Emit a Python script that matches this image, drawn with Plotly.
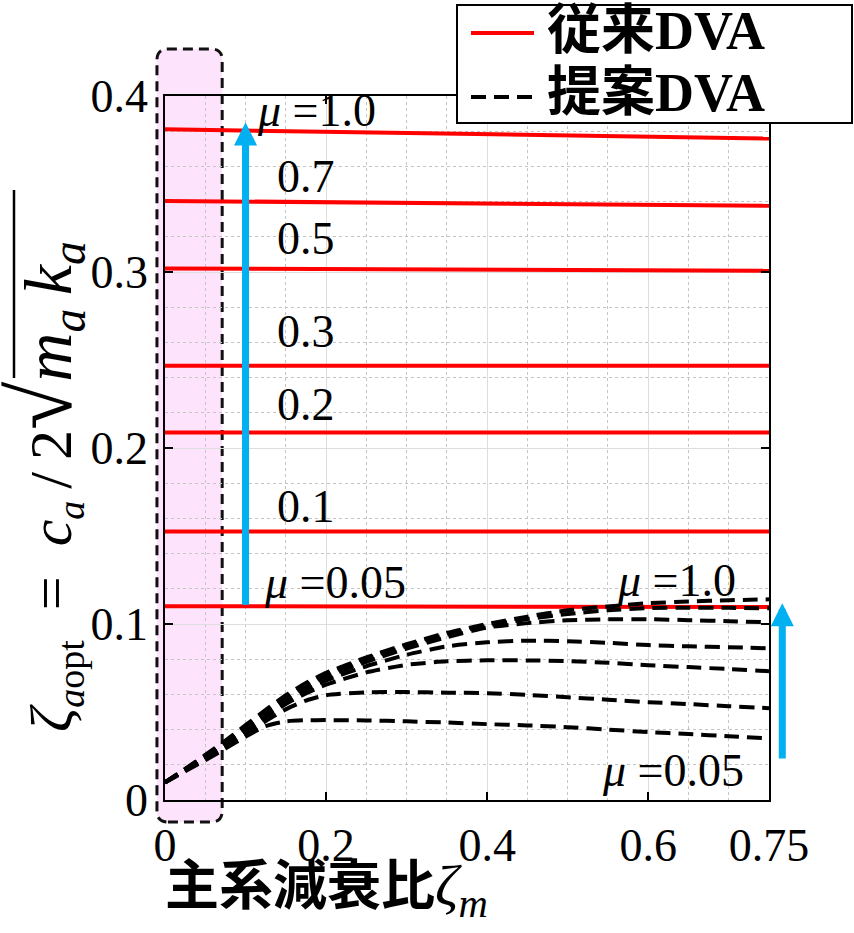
import plotly.graph_objects as go

# ---------------- data ----------------
mu_labels = ["1.0", "0.7", "0.5", "0.3", "0.2", "0.1", "0.05"]

# conventional DVA (red): value at zeta_m = 0 and at zeta_m = 0.75
conv_x = [0.0, 0.75]
conv_y = {
    "1.0": [0.3811, 0.3758],
    "0.7": [0.3404, 0.3376],
    "0.5": [0.3020, 0.3007],
    "0.3": [0.2468, 0.2468],
    "0.2": [0.2088, 0.2088],
    "0.1": [0.1526, 0.1526],
    "0.05": [0.1101, 0.1096],
}

# proposed DVA (black dashed)
prop_x = [0, 0.025, 0.05, 0.075, 0.1, 0.125, 0.15, 0.175, 0.2, 0.25, 0.3,
          0.35, 0.4, 0.45, 0.5, 0.55, 0.6, 0.65, 0.7, 0.75]
prop_y = {
    "0.05": [0.010, 0.0163, 0.0226, 0.0292, 0.0360, 0.0420, 0.0447, 0.0453, 0.0454, 0.0452,
             0.0447, 0.0440, 0.0431, 0.0424, 0.0414, 0.0400, 0.0386, 0.0375, 0.0362, 0.0350],
    "0.1": [0.010, 0.0166, 0.0232, 0.0302, 0.0375, 0.0448, 0.0515, 0.0565, 0.0595, 0.0612,
            0.0613, 0.0610, 0.0607, 0.0597, 0.0584, 0.0570, 0.0556, 0.0545, 0.0533, 0.0522],
    "0.2": [0.010, 0.0169, 0.0238, 0.0312, 0.0390, 0.0470, 0.0545, 0.0605, 0.0655, 0.0725,
            0.0768, 0.0788, 0.0794, 0.0793, 0.0789, 0.0780, 0.0766, 0.0755, 0.0744, 0.0732],
    "0.3": [0.010, 0.0171, 0.0243, 0.0320, 0.0400, 0.0482, 0.0560, 0.0625, 0.0680, 0.0760,
            0.0825, 0.0873, 0.0896, 0.0905, 0.0902, 0.0893, 0.0880, 0.0873, 0.0868, 0.0862],
    "0.5": [0.010, 0.0173, 0.0248, 0.0327, 0.0410, 0.0494, 0.0575, 0.0645, 0.0700, 0.0785,
            0.0860, 0.0925, 0.0980, 0.1005, 0.1021, 0.1027, 0.1027, 0.1022, 0.1016, 0.1010],
    "0.7": [0.010, 0.0175, 0.0252, 0.0333, 0.0418, 0.0503, 0.0585, 0.0655, 0.0712, 0.0800,
            0.0875, 0.0940, 0.0990, 0.1028, 0.1057, 0.1078, 0.1090, 0.1093, 0.1092, 0.1089],
    "1.0": [0.010, 0.0177, 0.0256, 0.0338, 0.0425, 0.0512, 0.0595, 0.0665, 0.0722, 0.0810,
            0.0885, 0.0950, 0.1000, 0.1042, 0.1078, 0.1100, 0.1118, 0.1128, 0.1135, 0.1140],
}

x_tickvals = [0, 0.2, 0.4, 0.6, 0.75]
x_ticktext = ["0", "0.2", "0.4", "0.6", "0.75"]
y_tickvals = [0, 0.1, 0.2, 0.3, 0.4]
y_ticktext = ["0", "0.1", "0.2", "0.3", "0.4"]

legend_names = ["従来DVA", "提案DVA"]

# in-plot labels: (text, x, y)
label_items = [
    ("<i>μ</i> =1.0", 0.112, 0.3915),
    ("0.7", 0.137, 0.354),
    ("0.5", 0.137, 0.319),
    ("0.3", 0.137, 0.266),
    ("0.2", 0.137, 0.225),
    ("0.1", 0.137, 0.1665),
    ("<i>μ</i> =0.05", 0.121, 0.1237),
    ("<i>μ</i> =1.0", 0.559, 0.1248),
    ("<i>μ</i> =0.05", 0.540, 0.017),
]

# blue arrows (data): tip / tail
arrow_left = dict(x=0.1, tip=0.385, tail=0.1101)
arrow_right = dict(x=0.7665, tip=0.1118, tail=0.0227)

# highlighted region (data units)
region_x = [-0.01, 0.071]
region_y = [-0.0125, 0.4267]

X_RANGE = [0, 0.75]
Y_RANGE = [0, 0.4]

SERIF = "Liberation Serif, Times New Roman, serif"
CJK = "Noto Sans CJK JP, sans-serif"

RED = "#ff0000"
DASH = "15px,8px"

W, H = 854, 933
ML, MR, MT, MB = 165, 85, 96, 133
PW, PH = W - ML - MR, H - MT - MB


def xp(x):
    return (x - X_RANGE[0]) / (X_RANGE[1] - X_RANGE[0])


def yp(y):
    return (y - Y_RANGE[0]) / (Y_RANGE[1] - Y_RANGE[0])


def px_x(px):
    return (px - ML) / PW


def px_y(py):
    return (H - MB - py) / PH


fig = go.Figure()

for m in mu_labels:
    fig.add_trace(go.Scatter(
        x=conv_x, y=conv_y[m], mode="lines",
        line=dict(color=RED, width=4),
        name=f"{legend_names[0]} μ={m}", showlegend=False, hoverinfo="skip"))

for m in mu_labels:
    fig.add_trace(go.Scatter(
        x=prop_x, y=prop_y[m], mode="lines",
        line=dict(color="black", width=4, dash=DASH, shape="spline", smoothing=0.6),
        name=f"{legend_names[1]} μ={m}", showlegend=False, hoverinfo="skip"))

shapes = []
# pink rounded region
x0, x1 = xp(region_x[0]), xp(region_x[1])
y0, y1 = yp(region_y[0]), yp(region_y[1])
rx, ry = 11 / PW, 11 / PH
path = (f"M{x0+rx},{y0} L{x1-rx},{y0} Q{x1},{y0} {x1},{y0+ry} "
        f"L{x1},{y1-ry} Q{x1},{y1} {x1-rx},{y1} L{x0+rx},{y1} "
        f"Q{x0},{y1} {x0},{y1-ry} L{x0},{y0+ry} Q{x0},{y0} {x0+rx},{y0} Z")
shapes.append(dict(type="path", xref="paper", yref="paper", path=path,
                   fillcolor="#fde3fb", line=dict(color="#111111", width=3, dash="10px,6px"),
                   layer="below"))
# legend box and samples
shapes.append(dict(type="rect", xref="paper", yref="paper",
                   x0=px_x(457), x1=px_x(852), y0=px_y(123), y1=px_y(5),
                   fillcolor="white", line=dict(color="black", width=2), layer="above"))
shapes.append(dict(type="line", xref="paper", yref="paper",
                   x0=px_x(471), x1=px_x(534), y0=px_y(33), y1=px_y(33),
                   line=dict(color=RED, width=4), layer="above"))
shapes.append(dict(type="line", xref="paper", yref="paper",
                   x0=px_x(471), x1=px_x(534), y0=px_y(97), y1=px_y(97),
                   line=dict(color="black", width=4, dash=DASH), layer="above"))
# overline of the square root in the y-axis title
shapes.append(dict(type="line", xref="paper", yref="paper",
                   x0=px_x(14), x1=px_x(14), y0=px_y(378), y1=px_y(190),
                   line=dict(color="black", width=2.5)))

annotations = []
for txt, x, y in label_items:
    annotations.append(dict(x=x, y=y, xref="x", yref="y", text=txt, showarrow=False,
                            xanchor="left", yanchor="middle",
                            font=dict(family=SERIF, size=46, color="black")))

for name, cy in zip(legend_names, [25, 87]):
    annotations.append(dict(
        x=px_x(545), y=px_y(cy), xref="paper", yref="paper",
        text=f"<b>{name[:2]}<span style='font-family:Liberation Serif'>{name[2:]}</span></b>",
        showarrow=False, xanchor="left", yanchor="middle",
        font=dict(family=CJK, size=54, color="black")))

annotations.append(dict(x=arrow_left["x"], y=arrow_left["tip"], xref="x", yref="y",
                        ax=arrow_left["x"], ay=arrow_left["tail"], axref="x", ayref="y",
                        showarrow=True, arrowhead=2, arrowsize=0.66, arrowwidth=7,
                        arrowcolor="#00b0f0", text="", standoff=0))
annotations.append(dict(x=xp(arrow_right["x"]), y=arrow_right["tip"], xref="paper", yref="y",
                        ax=0, ay=arrow_right["tail"], axref="pixel", ayref="y",
                        showarrow=True, arrowhead=2, arrowsize=0.66, arrowwidth=7,
                        arrowcolor="#00b0f0", text="", standoff=0))

# y-axis title
SUB = "<span style='font-size:38px'>"
annotations.append(dict(
    x=px_x(44), y=px_y(487), xref="paper", yref="paper",
    text=(f"<i>ζ</i><sub>{SUB}<i>a</i>opt</span></sub>\u2002=\u2002"
          f"<i>c</i><sub>{SUB}<i>a</i></span></sub>\u2009/\u20092"
          "<span style='font-size:88px'>√</span>"
          "<span style='font-size:68px'><i>m<sub>a</sub>\u2009k<sub>a</sub></i></span>"),
    textangle=-90, showarrow=False, xanchor="center", yanchor="middle",
    font=dict(family=SERIF, size=60, color="black")))
# x-axis title
annotations.append(dict(
    x=px_x(163), y=px_y(884), xref="paper", yref="paper",
    text=("<b>主系減衰比</b><span style='font-family:Liberation Serif;font-size:58px'>"
          "<i>ζ<sub>m</sub></i></span>"),
    showarrow=False, xanchor="left", yanchor="middle",
    font=dict(family=CJK, size=54, color="black")))

axis_common = dict(
    showline=True, linecolor="black", linewidth=1.5, mirror="ticks",
    ticks="inside", ticklen=8, tickwidth=1.5, tickcolor="black",
    showgrid=True, gridcolor="#dedede", gridwidth=1,
    zeroline=False,
    tickfont=dict(family=SERIF, size=46, color="black"),
)

fig.update_layout(
    width=W, height=H,
    margin=dict(l=ML, r=MR, t=MT, b=MB, autoexpand=False),
    paper_bgcolor="white", plot_bgcolor="white",
    xaxis=dict(range=X_RANGE, tickvals=x_tickvals, ticktext=x_ticktext,
               minor=dict(dtick=0.05, tick0=0, showgrid=True, gridcolor="#c4c4c4",
                          griddash="dot", gridwidth=1, ticks=""),
               ticklabelstandoff=4, **axis_common),
    yaxis=dict(range=Y_RANGE, tickvals=y_tickvals, ticktext=y_ticktext,
               minor=dict(dtick=0.02, tick0=0, showgrid=True, gridcolor="#c4c4c4",
                          griddash="dot", gridwidth=1, ticks=""),
               ticklabelstandoff=6, **axis_common),
    showlegend=False,
    shapes=shapes,
    annotations=annotations,
)

fig.write_html("out.html", post_script="document.body.style.margin='0';",
               config={"displayModeBar": False})
